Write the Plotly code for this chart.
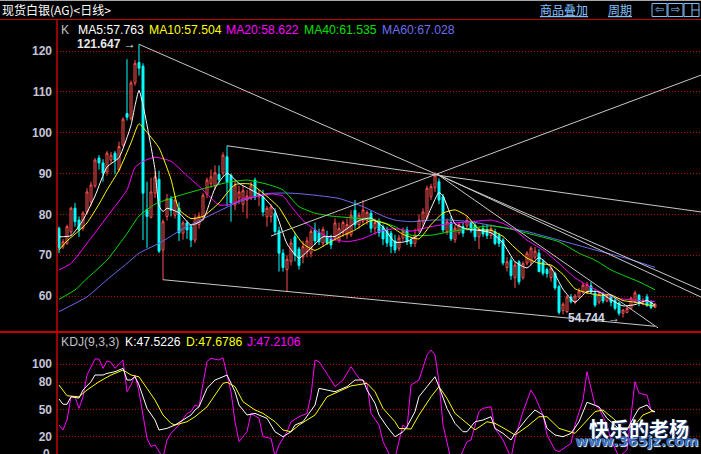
import plotly.graph_objects as go

# ---------------- data (daily bars, oldest first) ----------------
opens = [
    76.6, 72.1, 72.9, 75.7, 81.5, 78.6, 76.6, 80.6, 83.1, 87.0,
    93.8, 92.6, 90.4, 93.3, 95.0, 91.0, 97.0, 104.7, 103.5, 112.2,
    117.2, 116.3, 81.2, 79.3, 85.2, 88.6, 71.3, 79.5, 83.8, 79.8,
    81.5, 75.4, 77.9, 77.0, 73.7, 77.5, 79.4, 85.0, 87.5, 87.0,
    89.8, 90.1, 94.1, 89.6, 82.3, 84.0, 82.5, 83.5, 84.0, 88.4,
    84.3, 84.3, 79.4, 79.5, 80.3, 76.0, 70.5, 66.5, 68.5, 74.5,
    71.5, 69.6, 70.8, 70.5, 76.2, 75.5, 73.0, 74.5, 74.0, 74.2,
    73.7, 75.5, 75.0, 75.0, 81.0, 77.5, 78.3, 78.5, 80.3, 76.6,
    78.0, 77.0, 76.0, 75.4, 73.5, 71.7, 74.2, 76.2, 73.6, 72.9,
    76.0, 78.2, 79.1, 84.3, 86.5, 88.0, 84.3, 75.8, 78.0, 73.8,
    75.5, 77.0, 77.2, 78.0, 77.4, 74.5, 76.5, 76.3, 74.8, 75.8,
    74.9, 73.7, 67.0, 68.8, 64.5, 68.4, 64.5, 68.1, 68.3, 69.5,
    70.5, 68.4, 66.5, 64.5, 65.6, 62.3, 56.5, 56.2, 59.8, 58.5,
    59.8, 61.0, 60.8, 62.5, 60.7, 58.5, 60.3, 58.8, 60.0, 59.0,
    58.3, 55.8, 56.0, 57.0, 58.6, 60.2, 58.0, 59.8, 58.6, 57.3]
highs = [
    77.0, 74.0, 77.5, 81.9, 82.8, 79.5, 80.8, 86.4, 88.0, 93.8,
    94.5, 93.5, 95.5, 95.3, 95.5, 97.8, 103.8, 118.0, 112.8, 117.8,
    121.647, 117.0, 88.0, 89.0, 90.5, 90.7, 78.8, 85.0, 84.5, 84.5,
    83.0, 78.5, 78.5, 77.5, 80.0, 80.5, 85.2, 89.0, 91.0, 92.0,
    92.0, 95.2, 96.8, 90.0, 88.5, 87.0, 87.0, 86.0, 88.0, 89.0,
    86.0, 86.0, 82.0, 82.5, 81.5, 77.0, 71.5, 70.0, 74.0, 75.5,
    72.0, 73.5, 74.5, 76.5, 78.0, 76.5, 77.0, 76.0, 75.0, 79.0,
    78.0, 78.5, 79.0, 81.0, 83.5, 80.5, 83.5, 81.0, 81.0, 79.0,
    79.0, 77.5, 77.0, 76.0, 75.0, 75.0, 76.8, 77.0, 74.5, 76.5,
    80.0, 81.5, 87.0, 87.5, 90.3, 88.8, 85.0, 79.0, 79.5, 77.5,
    78.0, 78.0, 79.5, 78.5, 78.0, 77.0, 77.5, 77.5, 77.5, 76.5,
    75.5, 74.2, 69.5, 69.5, 68.5, 68.8, 68.5, 71.0, 72.2, 72.0,
    71.5, 69.0, 67.0, 67.5, 66.0, 62.8, 58.5, 60.2, 60.5, 60.5,
    62.0, 63.2, 63.5, 63.5, 61.5, 61.0, 61.0, 60.5, 60.5, 59.5,
    58.5, 56.8, 57.5, 59.8, 61.3, 60.5, 59.5, 60.5, 59.0, 58.3]
lows = [
    70.5, 71.5, 72.5, 75.0, 77.0, 74.5, 76.0, 80.0, 82.0, 86.5,
    91.0, 88.0, 89.5, 92.5, 89.8, 90.5, 96.5, 103.0, 103.0, 111.5,
    114.0, 73.7, 71.8, 79.0, 84.0, 70.5, 64.0, 78.5, 79.5, 79.0,
    73.5, 73.8, 74.0, 72.0, 73.0, 76.5, 78.5, 84.0, 86.5, 86.0,
    87.5, 89.5, 82.0, 78.2, 81.0, 82.5, 80.5, 79.0, 83.5, 83.5,
    82.0, 79.5, 77.0, 78.0, 75.0, 66.0, 66.0, 61.2, 67.5, 68.5,
    66.5, 68.0, 69.5, 69.5, 72.5, 72.5, 72.0, 72.5, 71.5, 73.5,
    73.0, 74.5, 74.0, 74.5, 76.5, 76.5, 77.5, 77.5, 75.5, 75.0,
    74.5, 72.5, 72.0, 70.5, 70.5, 71.0, 73.5, 72.5, 72.0, 72.0,
    75.5, 77.0, 78.5, 83.5, 85.5, 82.5, 75.5, 75.0, 73.5, 73.0,
    75.0, 74.5, 76.0, 75.5, 73.5, 71.5, 74.5, 74.0, 74.0, 72.5,
    72.0, 67.5, 66.0, 64.0, 62.0, 62.8, 64.0, 67.5, 67.5, 69.0,
    65.8, 65.0, 64.5, 63.5, 61.5, 55.5, 55.5, 55.8, 58.2, 58.0,
    59.5, 60.5, 60.5, 60.5, 57.3, 58.0, 58.2, 58.5, 57.5, 56.5,
    55.2, 54.744, 55.8, 56.8, 58.2, 57.5, 57.8, 57.5, 56.8, 57.0]
closes = [
    71.8, 73.3, 77.0, 81.5, 78.2, 76.2, 80.3, 85.5, 87.2, 93.3,
    92.6, 90.1, 95.0, 94.5, 93.3, 96.6, 103.3, 103.8, 112.2, 117.0,
    115.8, 85.2, 79.5, 85.5, 89.2, 71.0, 78.2, 83.8, 81.0, 83.5,
    75.5, 77.9, 76.2, 73.7, 79.1, 79.6, 84.7, 88.4, 89.2, 90.2,
    88.5, 94.5, 88.0, 82.8, 87.2, 85.5, 85.8, 84.5, 87.0, 84.3,
    85.0, 80.6, 81.5, 81.8, 75.8, 70.5, 67.0, 69.0, 73.0, 70.0,
    67.5, 72.1, 73.5, 75.8, 73.5, 73.3, 76.3, 73.0, 72.5, 77.9,
    76.5, 78.0, 77.5, 79.8, 77.5, 79.8, 81.1, 80.5, 76.6, 78.0,
    75.5, 74.0, 73.0, 72.2, 71.3, 74.2, 75.8, 73.3, 72.8, 74.9,
    78.6, 80.6, 86.4, 86.8, 89.6, 83.5, 76.2, 78.2, 74.0, 76.6,
    77.5, 75.4, 78.5, 76.0, 74.5, 76.3, 75.2, 74.8, 76.5, 72.9,
    72.9, 68.1, 68.4, 65.0, 67.6, 63.5, 68.0, 70.5, 71.7, 71.0,
    66.0, 65.6, 65.5, 66.8, 62.0, 56.0, 58.0, 59.8, 58.6, 60.0,
    61.2, 62.7, 62.8, 61.0, 57.8, 60.5, 58.8, 60.0, 58.5, 57.0,
    55.8, 56.6, 57.0, 59.5, 60.8, 58.3, 58.2, 57.6, 57.2, 58.0]
bar_idx = list(range(len(closes)))

# moving average lines, sampled at bar positions
ma5_x = [0, 3, 6, 9, 12, 15, 18, 19, 20, 21, 22, 23, 24, 25, 26, 27, 30, 33, 36, 39, 42, 45, 48, 51, 54, 57, 60,
         63, 66, 69, 72, 75, 78, 81, 84, 87, 90, 93, 95, 96, 99, 102, 105, 108, 111, 114, 117, 120,
         123, 126, 129, 132, 135, 138, 141, 144, 147, 149]
ma5_y = [74.5, 74.8, 78.6, 84.5, 91.6, 93.9, 101.8, 106.6, 110.4, 106.8, 101.9, 96.6, 91.0, 82.1, 80.7, 81.5,
         80.4, 77.4, 78.7, 86.4, 90.1, 87.6, 86.0, 84.3, 80.9, 72.8, 69.3,
         71.8, 74.5, 74.6, 76.5, 78.5, 79.1, 76.9, 73.2, 73.4, 75.1, 81.5, 85.4, 84.5, 77.7, 76.4, 76.1, 75.5,
         73.0, 68.4, 66.9, 69.4, 67.0, 61.7, 58.5, 61.1, 61.0, 59.1, 57.6, 57.9, 58.9, 57.763]
ma10_x = [0, 2, 5, 7, 10, 12, 15, 18, 20, 22, 25, 28, 30, 33, 36, 40, 44, 48, 52, 55, 58, 61, 64, 67, 70, 74,
          78, 82, 86, 90, 93, 96, 99, 102, 105, 108, 111, 114, 117, 120, 123, 126, 129, 132, 135, 138,
          141, 144, 147, 149]
ma10_y = [71.3, 73.5, 76.0, 77.9, 82.5, 86.0, 90.8, 97.5, 102.2, 100.1, 96.3, 88.6, 81.2, 79.0, 79.5, 82.8,
          87.3, 87.4, 84.4, 81.7, 76.9, 72.8, 71.2, 72.8, 74.4, 76.2, 78.5, 77.6, 75.1, 74.0, 77.5, 80.3,
          81.1, 79.6, 76.3, 76.1, 74.6, 71.8, 69.3, 68.0, 67.6, 65.3, 61.8, 60.8, 60.2, 60.3, 58.9, 58.5,
          57.9, 57.504]
ma20_x = [0, 3, 7, 12, 17, 19, 21, 24, 28, 32, 36, 40, 43, 46, 50, 53, 56, 58, 61, 64, 68, 72, 76, 80, 84,
          88, 93, 98, 103, 108, 111, 114, 117, 121, 125, 129, 132, 136, 140, 144, 149]
ma20_y = [66.4, 68.0, 72.9, 79.4, 86.0, 91.5, 93.0, 94.0, 93.0, 89.5, 86.0, 82.3, 82.5, 83.8, 84.5, 85.0,
          84.5, 82.0, 78.5, 76.2, 74.1, 73.3, 74.1, 75.8, 76.5, 75.9, 77.0, 77.8, 78.2, 78.6, 77.8, 76.2,
          73.7, 71.3, 68.0, 64.5, 62.7, 60.7, 59.4, 59.0, 58.622]
ma40_x = [0, 4, 7, 12, 17, 20, 24, 29, 35, 42, 47, 52, 56, 60, 64, 68, 75, 79, 84, 88, 93, 98, 103, 108,
          113, 117, 125, 130, 134, 138, 142, 145, 149]
ma40_y = [59.2, 61.5, 64.3, 68.8, 75.3, 79.6, 82.5, 84.3, 86.0, 87.8, 88.4, 87.4, 86.0, 81.9, 80.3, 79.6,
          79.0, 78.6, 77.0, 74.9, 74.9, 75.8, 76.6, 77.2, 76.4, 75.4, 73.3, 70.5, 68.8, 66.4, 64.7, 63.5,
          61.535]
ma60_x = [0, 7, 12, 17, 20, 25, 29, 32, 37, 45, 52, 58, 64, 70, 76, 81, 84, 88, 93, 98, 103, 108, 113,
          117, 125, 134, 142, 149]
ma60_y = [56.2, 59.8, 64.0, 68.0, 70.5, 72.9, 75.3, 77.0, 79.4, 83.1, 85.1, 85.2, 84.7, 83.9, 81.9, 79.6,
          78.6, 78.2, 78.6, 78.6, 78.2, 77.3, 76.5, 75.8, 73.7, 71.3, 69.2, 67.028]

# KDJ(9,3,3)
k_x = [0, 1, 2, 3, 5, 6, 8, 9, 11, 12, 14, 16, 17, 18, 19, 20, 22, 24, 25, 27, 29, 31, 33, 34, 35, 37, 39,
       41, 42, 44, 45, 47, 49, 52, 54, 56, 58, 59, 61, 64, 65, 67, 69, 72, 74, 76, 77, 79, 80, 82, 84, 86,
       87, 89, 90, 92, 94, 95, 97, 99, 101, 102, 104, 106, 108, 109, 111, 113, 114, 117, 119, 121, 122,
       124, 126, 128, 130, 132, 134, 135, 137, 139, 141, 142, 144, 145, 147, 148, 149]
k_y = [61.6, 55.8, 55.8, 64, 62.6, 71.5, 80.6, 88, 88, 89.8, 91.6, 95.3, 82.5, 82.5, 86.1, 77, 51.3, 38.5,
       27.5, 29.3, 33, 38.5, 44, 49.5, 53, 73.3, 82.5, 86, 88, 69.6, 55, 44, 45.8, 40.3, 25.6, 20.1, 25.6,
       33, 36.6, 55, 73.3, 71.5, 69.6, 75.2, 82.5, 82.5, 71.5, 56.9, 44, 31.2, 20.1, 25.6, 31.2, 47.7,
       64.2, 75.2, 86.1, 75.2, 51.3, 34.8, 25.6, 25.6, 36.6, 38.5, 42.1, 29.3, 23.8, 16.5, 23.8, 40.3,
       49.5, 44, 29.3, 22, 20.1, 23.8, 36.6, 58, 55, 53, 40.3, 33, 23.8, 27.5, 44, 51.3, 55, 49.5, 47.5226]
d_x = [0, 2, 5, 7, 10, 13, 15, 16, 18, 20, 22, 24, 26, 28, 29, 32, 34, 37, 39, 41, 42, 44, 46, 49, 51, 54,
       56, 58, 60, 64, 67, 70, 73, 77, 79, 81, 84, 85, 88, 90, 93, 95, 97, 99, 102, 104, 107, 109, 112, 114,
       117, 120, 122, 125, 129, 131, 134, 136, 139, 141, 144, 146, 148, 149]
d_y = [77, 65.2, 64, 71.5, 80.6, 88, 91.6, 93.5, 88, 86, 73.3, 60.5, 44, 34.8, 33, 36.6, 42.1, 53, 66, 78.8,
       80, 75.2, 58.6, 49.5, 45.8, 36.6, 27.5, 25.6, 33, 44, 64, 69.6, 76, 78.8, 69.6, 51.3, 36.6, 29.3,
       28.6, 44, 64, 75.2, 62.3, 45.8, 34.8, 27.5, 36.6, 34.8, 27.5, 22, 31.2, 42.1, 42.1, 29.3, 23.8, 33,
       47.7, 49.5, 38.5, 27.5, 33, 44, 47.7, 47.6786]
j_x = [0, 1, 2, 3, 4, 5, 6, 7, 9, 10, 11, 12, 13, 14, 16, 17, 18, 19, 20, 22, 23, 24, 26, 27, 28, 30, 32,
       33, 34, 35, 36, 37, 38, 40, 41, 43, 44, 45, 47, 48, 50, 51, 53, 54, 55, 57, 58, 60, 62, 63, 64, 65,
       68, 69, 71, 73, 75, 77, 78, 80, 81, 83, 84, 86, 87, 88, 90, 92, 93, 94, 95, 96, 98, 100, 102, 103,
       105, 106, 108, 109, 111, 113, 114, 116, 118, 119, 121, 122, 124, 125, 128, 129, 131, 132, 134, 135,
       137, 138, 140, 142, 144, 145, 147, 148, 149]
j_y = [33, 27.5, 38.5, 64, 64, 51.3, 64, 88, 105.6, 105.6, 95.3, 103.4, 102, 95.3, 104.5, 69.6, 77, 88,
       69.6, 18.3, 9.2, 11, -3, 16.5, 23.8, 33, 45.8, 47.7, 55, 53, 78.8, 102.7, 106.3, 104.5, 107, 69.6,
       36.6, 14.7, 25.6, 45.8, 40.3, 20.1, 18.3, -1, 11, 25.6, 36.6, 42.1, 45.8, 66, 104.5, 102.7, 82.5,
       75.2, 82.5, 97.1, 84.3, 78.8, 45.8, 33, 14.7, -3, -3, 33, 29.3, 77, 82.5, 110, 115.5, 110, 80.6, 33,
       -5, -5, 14.7, 16.5, 47.7, 51.3, 53, 29.3, 16.5, -3, 18.3, 47.7, 71.5, 64.2, 44, 22, 5.5, 3.7, 12.8,
       33, 60.5, 91.6, 55, 51.3, 33, 16.5, -2, 5.5, 80.6, 67.9, 66, 49.5, 47.2106]

# hand drawn trend lines (bar position, price) -> (bar position, price)
trend_from_x = [20, 42, 53, 94.5, 94.5, 26]
trend_from_y = [121.647, 96.8, 74.7, 89.9, 89.9, 64.0]
trend_to_x = [160.5, 160.5, 160.5, 149.75, 160.5, 149]
trend_to_y = [61.5, 80.6, 114.1, 52.2, 59.75, 52.6]

price_ticks = [60, 70, 80, 90, 100, 110, 120]
kdj_ticks = [20, 50, 80, 100]

# ---------------- layout geometry (pixels of the 701x454 page) ----------------
W, H = 701, 454
LEFT, TOP, SPLIT = 57, 20, 332
split = (H - SPLIT) / (H - TOP)


def px(x):
    return (x - LEFT) / (W - LEFT)


def py(y):
    return (H - y) / (H - TOP)


fig = go.Figure()

fig.add_trace(go.Candlestick(
    x=bar_idx, open=opens, high=highs, low=lows, close=closes,
    increasing=dict(line=dict(color='#ff5050', width=1), fillcolor='#000000'),
    decreasing=dict(line=dict(color='#00ffff', width=1), fillcolor='#00ffff'),
    whiskerwidth=0, hoverinfo='skip', showlegend=False, xaxis='x', yaxis='y'))

for xs, ys, col in [(ma60_x, ma60_y, '#6c6cf0'), (ma40_x, ma40_y, '#00e000'),
                    (ma20_x, ma20_y, '#ff00ff'), (ma10_x, ma10_y, '#ffff00'),
                    (ma5_x, ma5_y, '#ffffff')]:
    fig.add_trace(go.Scatter(x=xs, y=ys, mode='lines', line=dict(color=col, width=1, shape='spline', smoothing=0.5),
                             hoverinfo='skip', showlegend=False, xaxis='x', yaxis='y'))

tx, ty = [], []
for a, b, c, d in zip(trend_from_x, trend_from_y, trend_to_x, trend_to_y):
    tx += [a, c, None]
    ty += [b, d, None]
fig.add_trace(go.Scatter(x=tx, y=ty, mode='lines', line=dict(color='#c8c8c8', width=1),
                         hoverinfo='skip', showlegend=False, xaxis='x', yaxis='y'))

for xs, ys, col in [(j_x, j_y, '#ff00ff'), (d_x, d_y, '#ffff00'), (k_x, k_y, '#ffffff')]:
    fig.add_trace(go.Scatter(x=xs, y=ys, mode='lines', line=dict(color=col, width=1),
                             hoverinfo='skip', showlegend=False, xaxis='x2', yaxis='y2'))

tickfont = dict(family='Liberation Sans', size=12, color='#c4c4d8', weight='bold')
grid = dict(showgrid=True, gridcolor='#b40000', griddash='1px,2px', gridwidth=1, zeroline=False,
            showline=False, ticks='', tickfont=tickfont, ticklabelstandoff=4, fixedrange=True)

fig.update_layout(
    width=W, height=H, paper_bgcolor='#000000', plot_bgcolor='#000000',
    margin=dict(l=LEFT, r=0, t=TOP, b=0),
    xaxis=dict(domain=[0, 1], range=[-0.5, 160.5], visible=False, anchor='y',
               rangeslider=dict(visible=False)),
    xaxis2=dict(domain=[0, 1], range=[-0.5, 160.5], visible=False, anchor='y2', matches='x'),
    yaxis=dict(domain=[split, 1], range=[51.2, 127.6], tickvals=price_ticks, anchor='x', **grid),
    yaxis2=dict(domain=[0, split], range=[1.1, 135.3], tickvals=kdj_ticks, anchor='x2', **grid),
    showlegend=False,
)

red = '#c80000'
shapes = [
    dict(type='line', xref='paper', yref='paper', x0=px(0), x1=px(W), y0=py(0.5), y1=py(0.5),
         line=dict(color='#a8a8a8', width=1)),
    dict(type='line', xref='paper', yref='paper', x0=px(0), x1=px(W), y0=py(19.5), y1=py(19.5),
         line=dict(color=red, width=1)),
    dict(type='line', xref='paper', yref='paper', x0=px(0), x1=px(W), y0=split, y1=split,
         line=dict(color=red, width=2)),
    dict(type='line', xref='paper', yref='paper', x0=0, x1=0, y0=0, y1=py(19.5),
         line=dict(color=red, width=1.5)),
]
# toolbar icons top right
for x0 in [652, 668, 684]:
    shapes.append(dict(type='rect', xref='paper', yref='paper', x0=px(x0), x1=px(x0 + 15),
                       y0=py(16.5), y1=py(3.5), line=dict(color='#80c0ff', width=1)))
shapes.append(dict(type='line', xref='paper', yref='paper', x0=px(692), x1=px(692), y0=py(16.5), y1=py(3.5),
                   line=dict(color='#80c0ff', width=1)))
shapes.append(dict(type='line', xref='paper', yref='paper', x0=px(692), x1=px(699), y0=py(10), y1=py(10),
                   line=dict(color='#80c0ff', width=1)))
fig.update_layout(shapes=shapes)

ann = []


def label(x, y, text, color, size=12.2, family='Liberation Sans', anchor='left', **kw):
    ann.append(dict(xref='paper', yref='paper', x=px(x), y=py(y), text=text, showarrow=False,
                    xanchor=anchor, yanchor='middle', font=dict(family=family, size=size, color=color, **kw)))


label(0, 9.5, '现货白银(AG)<日线>', '#ffffff', size=12, family='Noto Sans CJK SC')
label(538, 9.5, '商品叠加', '#80c0ff', size=12, family='Noto Sans CJK SC', lineposition='under')
label(606, 9.5, '周期', '#80c0ff', size=12, family='Noto Sans CJK SC', lineposition='under')
label(659.5, 10, '⇦', '#80c0ff', size=11, family='DejaVu Sans', anchor='center')
label(675.5, 10, '⇨', '#80c0ff', size=11, family='DejaVu Sans', anchor='center')

label(59, 30, 'K', '#c0c0c0')
label(76, 30, 'MA5:57.763', '#ffffff')
label(147, 30, 'MA10:57.504', '#ffff00')
label(224, 30, 'MA20:58.622', '#ff00ff')
label(302, 30, 'MA40:61.535', '#00e000')
label(380, 30, 'MA60:67.028', '#6c6cf0')

label(59, 342, 'KDJ(9,3,3)', '#c0c0c0')
label(123, 342, 'K:47.5226', '#ffffff')
label(184, 342, 'D:47.6786', '#ffff00')
label(245, 342, 'J:47.2106', '#ff00ff')

# bottom "0" tick of the KDJ panel, cut by the window edge
label(52, 454, '0', '#c4c4d8', size=12, anchor='right', weight='bold')

# extreme price markers
peak_i = highs.index(max(highs))
low_i = lows.index(min(lows))
ann.append(dict(x=peak_i, y=highs[peak_i], xref='x', yref='y', text='%.3f →' % highs[peak_i],
                showarrow=False, xanchor='right', yanchor='middle', xshift=-1,
                font=dict(family='Liberation Sans', size=12, color='#e8e8e8', weight='bold')))
ann.append(dict(x=low_i, y=lows[low_i], xref='x', yref='y', text='%.3f →' % lows[low_i],
                showarrow=False, xanchor='right', yanchor='middle', xshift=-1,
                font=dict(family='Liberation Sans', size=12, color='#d0d8e8', weight='bold')))

# watermark
label(636, 441, 'www.365jz.com', '#3f6fb8', size=14, family='DejaVu Sans', anchor='center',
      weight='bold', shadow='1px 1px 1px #ffffff')
label(639, 428, '快乐的老杨', '#ffffff', size=20, family='Noto Sans CJK SC', anchor='center',
      weight='bold', shadow='1px 1px 2px #1f4f9f')

fig.update_layout(annotations=ann)

# the page body has a default margin; remove it so the figure sits at the window corner
fig.write_html("out.html", config={'displayModeBar': False},
               post_script="document.body.style.margin='0px';")
